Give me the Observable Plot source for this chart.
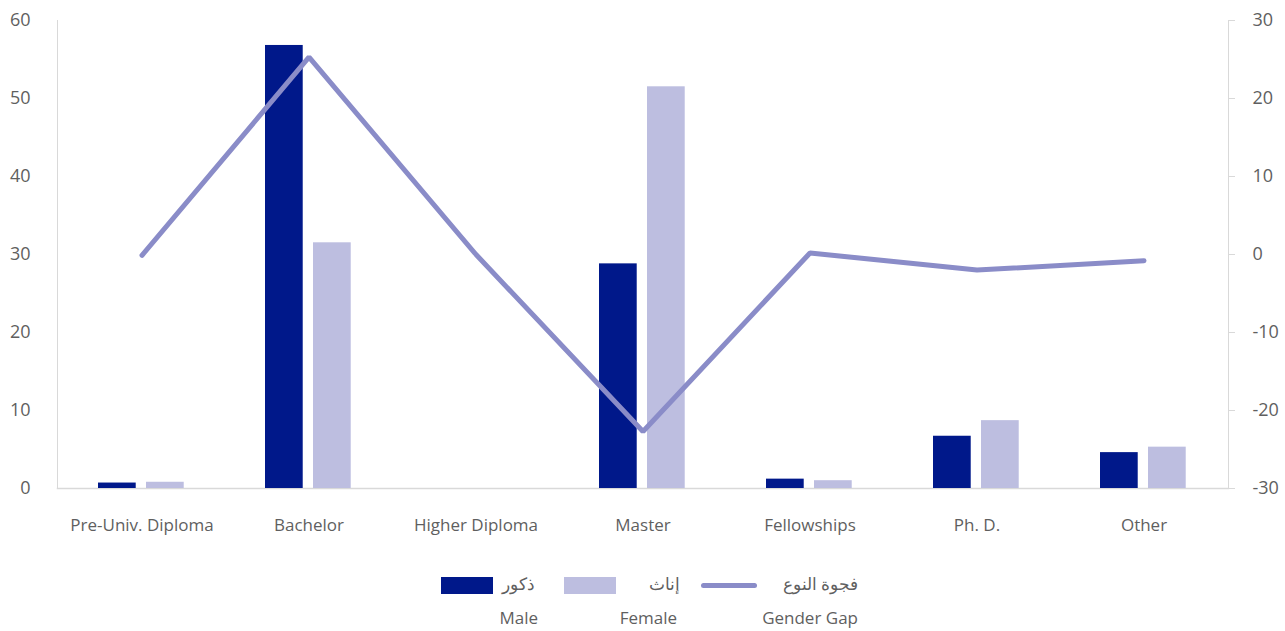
<!DOCTYPE html>
<html>
<head>
<meta charset="utf-8">
<script src="https://cdn.jsdelivr.net/npm/d3@7"></script>
<script src="https://cdn.jsdelivr.net/npm/@observablehq/plot@0.6"></script>
<style>
  html, body { margin: 0; padding: 0; background: #fff; }
  body { width: 1285px; height: 631px; position: relative; overflow: hidden; font-family: "Open Sans", "DejaVu Sans", sans-serif; }
  #chart { position: absolute; left: 0; top: 0; }
  .leg { position: absolute; font-size: 17px; font-weight: 400; color: #5f5f5f; line-height: 1; white-space: nowrap; }
  .sw { position: absolute; }
</style>
</head>
<body>
<div id="chart"></div>
<div id="legend"></div>
<script>
const categories = ["Pre-Univ. Diploma", "Bachelor", "Higher Diploma", "Master", "Fellowships", "Ph. D.", "Other"];
const male   = [0.7, 56.8, 0, 28.8, 1.2, 6.7, 4.6];
const female = [0.8, 31.5, 0, 51.5, 1.0, 8.7, 5.3];
const gap    = [-0.1, 25.3, 0, -22.7, 0.2, -2.0, -0.8];
const leftTicks  = [0, 10, 20, 30, 40, 50, 60];
const rightTicks = [-30, -20, -10, 0, 10, 20, 30];
const rightOffset = 30; // right axis (-30..30) aligned with left axis (0..60)
const seriesNames = [
  {ar: "ذكور", en: "Male"},
  {ar: "إناث", en: "Female"},
  {ar: "فجوة النوع", en: "Gender Gap"}
];

const colMale = "#00188a", colFemale = "#bdbee0", colGap = "#8a8cc8";
const grey = "#d9d9d9", textCol = "#5f5f5f";

const rows = categories.map((c, i) => ({cat: c, male: male[i], female: female[i], gap: gap[i]}));

const W = 1285, H = 555, mL = 57, mR = 57;
const band = (W - mL - mR) / categories.length;

const chart = Plot.plot({
  width: W,
  height: H,
  marginLeft: mL,
  marginRight: mR,
  marginTop: 20,
  marginBottom: 67,
  style: {fontFamily: "'Open Sans', 'DejaVu Sans', sans-serif", fontSize: "17px", color: textCol, background: "#fff"},
  x: {domain: categories, padding: 0, axis: null, label: null},
  y: {domain: [0, 60], axis: null, label: null},
  marks: [
    Plot.frame({anchor: "left", stroke: grey}),
    Plot.frame({anchor: "right", stroke: grey}),
    Plot.frame({anchor: "bottom", stroke: grey, strokeWidth: 1.5}),
    Plot.axisY(leftTicks, {anchor: "left", tickSize: 0, tickPadding: 27, fontSize: 18, fill: textCol, label: null}),
    Plot.axisY(rightTicks.map(d => d + rightOffset), {anchor: "right", tickSize: 6, tickPadding: 18, stroke: grey, fill: textCol, fontSize: 18, label: null, tickFormat: d => String(d - rightOffset)}),
    Plot.axisX(categories, {anchor: "bottom", tickSize: 0, tickPadding: 30, fontSize: 17, fill: textCol, label: null}),
    Plot.barY(rows, {x: "cat", y: "male", fill: colMale, insetLeft: 40, insetRight: band - 78}),
    Plot.barY(rows, {x: "cat", y: "female", fill: colFemale, insetLeft: 88, insetRight: band - 126}),
    Plot.line(rows, {x: "cat", y: d => d.gap + rightOffset, stroke: colGap, strokeWidth: 5, strokeLinejoin: "miter", strokeLinecap: "round"})
  ]
});
document.getElementById("chart").appendChild(chart);

// legend
const legend = document.getElementById("legend");
const items = [
  {sw: {left: 441, top: 577, width: 52, height: 17, background: colMale}, arRight: W - 535, enRight: W - 538},
  {sw: {left: 564, top: 577, width: 52, height: 17, background: colFemale}, arRight: W - 680, enRight: W - 677},
  {sw: {left: 701, top: 583, width: 56, height: 5, background: colGap, borderRadius: "3px"}, arRight: W - 858, enRight: W - 858}
];
items.forEach((it, i) => {
  const s = document.createElement("div");
  s.className = "sw";
  Object.assign(s.style, {left: it.sw.left + "px", top: it.sw.top + "px", width: it.sw.width + "px", height: it.sw.height + "px", background: it.sw.background, borderRadius: it.sw.borderRadius || "0"});
  legend.appendChild(s);
  const a = document.createElement("div");
  a.className = "leg";
  a.textContent = seriesNames[i].ar;
  a.dir = "rtl";
  Object.assign(a.style, {right: it.arRight + "px", top: "575px", fontWeight: 300});
  legend.appendChild(a);
  const e = document.createElement("div");
  e.className = "leg";
  e.textContent = seriesNames[i].en;
  Object.assign(e.style, {right: it.enRight + "px", top: "609px"});
  legend.appendChild(e);
});
</script>
</body>
</html>
